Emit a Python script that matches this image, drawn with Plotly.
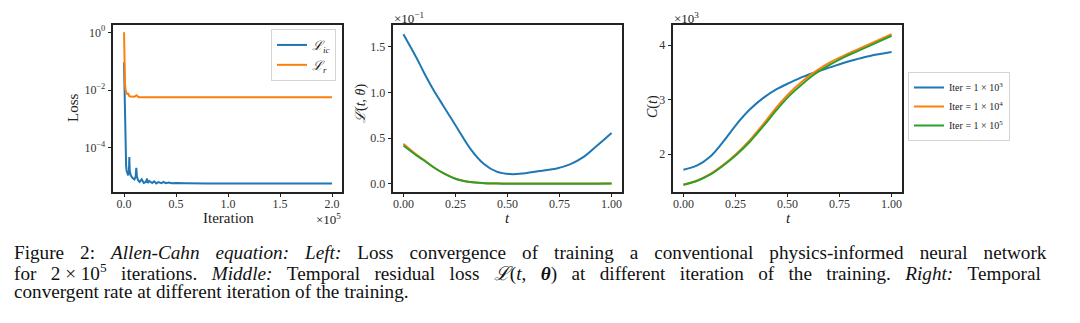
import plotly.graph_objects as go

W, H = 1080, 323

# ---------------- data ----------------
# Left: loss vs iteration (iteration in units of 1e5)
iter_ic = [0, 0.004, 0.008, 0.012, 0.016, 0.02, 0.025, 0.03, 0.04, 0.047, 0.051, 0.055,
           0.065, 0.08, 0.1, 0.112, 0.118, 0.124, 0.135, 0.15, 0.17, 0.19, 0.21, 0.222,
           0.23, 0.245, 0.27, 0.29, 0.31, 0.33, 0.36, 0.38, 0.4, 0.43, 0.46, 0.5, 0.55,
           0.6, 0.8, 1.0, 1.5, 2.0]
loss_ic = [0.09, 0.01, 1.2e-3, 2e-4, 5e-5, 2.5e-5, 1.6e-5, 1.3e-5, 1.1e-5, 1.4e-5, 4.8e-5, 1.6e-5,
           1.1e-5, 9e-6, 8e-6, 1.0e-5, 2.0e-5, 1.0e-5, 7.5e-6, 6.5e-6, 8e-6, 6e-6, 6.5e-6, 8.5e-6,
           6e-6, 7e-6, 6e-6, 6.8e-6, 5.8e-6, 6.4e-6, 5.9e-6, 6.5e-6, 5.9e-6, 6.2e-6, 5.9e-6, 6.0e-6, 5.8e-6,
           5.9e-6, 5.8e-6, 5.8e-6, 5.8e-6, 5.8e-6]
iter_r = [0, 0.003, 0.006, 0.01, 0.015, 0.02, 0.03, 0.04, 0.05, 0.06, 0.08, 0.1, 0.12,
          0.13, 0.14, 0.2, 0.5, 1.0, 1.5, 2.0]
loss_r = [1.0, 0.15, 0.035, 0.015, 0.01, 8.5e-3, 7e-3, 7.8e-3, 6.2e-3, 5.9e-3, 5.7e-3, 5.8e-3, 6.6e-3,
          5.9e-3, 5.6e-3, 5.6e-3, 5.6e-3, 5.6e-3, 5.6e-3, 5.6e-3]

# Middle: temporal residual loss (units of 1e-1)
t_mid = [0.0, 0.064, 0.096, 0.144, 0.192, 0.256, 0.32, 0.384, 0.448, 0.512, 0.576, 0.656,
         0.736, 0.8, 0.864, 0.928, 1.0]
res_1e3 = [1.637, 1.374, 1.23, 1.03, 0.853, 0.62, 0.39, 0.225, 0.135, 0.108, 0.115, 0.142,
           0.17, 0.214, 0.293, 0.415, 0.558]
res_1e4 = [0.44, 0.318, 0.266, 0.186, 0.12, 0.054, 0.023, 0.011, 0.007, 0.005, 0.005, 0.005,
           0.005, 0.005, 0.005, 0.005, 0.006]
res_1e5 = [0.42, 0.31, 0.262, 0.183, 0.118, 0.052, 0.021, 0.009, 0.005, 0.003, 0.003, 0.003,
           0.003, 0.003, 0.003, 0.003, 0.004]

# Right: temporal convergent rate (units of 1e3)
t_right = [0.0, 0.064, 0.128, 0.192, 0.256, 0.32, 0.384, 0.448, 0.512, 0.576, 0.64, 0.704,
           0.768, 0.832, 0.896, 1.0]
c_1e3 = [1.713, 1.786, 1.95, 2.23, 2.55, 2.82, 3.03, 3.19, 3.31, 3.42, 3.51, 3.59, 3.67,
         3.74, 3.80, 3.87]
c_1e4 = [1.437, 1.51, 1.63, 1.80, 2.01, 2.26, 2.55, 2.86, 3.13, 3.35, 3.53, 3.68, 3.80,
         3.91, 4.02, 4.20]
c_1e5 = [1.437, 1.505, 1.62, 1.79, 1.99, 2.23, 2.51, 2.81, 3.08, 3.30, 3.49, 3.64, 3.77,
         3.88, 3.99, 4.17]

legend_left = ["<i>ℒ</i><sub><i>ic</i></sub>", "<i>ℒ</i><sub><i>r</i></sub>"]
legend_right = ["Iter = 1 × 10<sup>3</sup>", "Iter = 1 × 10<sup>4</sup>", "Iter = 1 × 10<sup>5</sup>"]

x_ticks_left = [0, 0.5, 1.0, 1.5, 2.0]
x_ticks_left_text = ["0.0", "0.5", "1.0", "1.5", "2.0"]
y_ticks_left = [1, 1e-2, 1e-4]
y_ticks_left_text = ["10<sup>0</sup>", "10<sup>−2</sup>", "10<sup>−4</sup>"]
t_ticks = [0, 0.25, 0.5, 0.75, 1.0]
t_ticks_text = ["0.00", "0.25", "0.50", "0.75", "1.00"]
y_ticks_mid = [0, 0.5, 1.0, 1.5]
y_ticks_mid_text = ["0.0", "0.5", "1.0", "1.5"]
y_ticks_right = [2, 3, 4]
y_ticks_right_text = ["2", "3", "4"]

caption_line1 = ["Figure", "2:", "<i>Allen-Cahn</i>", "<i>equation:</i>", "<i>Left:</i>", "Loss",
                 "convergence", "of", "training", "a", "conventional", "physics-informed",
                 "neural", "network"]
caption_line2 = ["for", "2 × 10<sup>5</sup>", "iterations.", "<i>Middle:</i>", "Temporal", "residual",
                 "loss", "<i>ℒ</i>(<i>t</i>,", "<b><i>θ</i></b>)", "at", "different", "iteration",
                 "of", "the", "training.", "<i>Right:</i>", "Temporal"]
caption_line3 = "convergent rate at different iteration of the training."

BLUE, ORANGE, GREEN = "#1f77b4", "#ff7f0e", "#2ca02c"
SERIF = "Liberation Serif"
TXT = "#222222"


def px(x):
    return x / W


def py(y):
    return 1 - y / H


fig = go.Figure()

# left
fig.add_trace(go.Scatter(x=iter_ic, y=loss_ic, mode="lines", line=dict(color=BLUE, width=2),
                         name=legend_left[0], xaxis="x", yaxis="y", legend="legend"))
fig.add_trace(go.Scatter(x=iter_r, y=loss_r, mode="lines", line=dict(color=ORANGE, width=2),
                         name=legend_left[1], xaxis="x", yaxis="y", legend="legend"))
# middle
for ys, c in [(res_1e3, BLUE), (res_1e4, ORANGE), (res_1e5, GREEN)]:
    fig.add_trace(go.Scatter(x=t_mid, y=ys, mode="lines",
                             line=dict(color=c, width=2, shape="spline", smoothing=1.0),
                             showlegend=False, xaxis="x2", yaxis="y2"))
# right
for ys, c, nm in [(c_1e3, BLUE, legend_right[0]), (c_1e4, ORANGE, legend_right[1]),
                  (c_1e5, GREEN, legend_right[2])]:
    fig.add_trace(go.Scatter(x=t_right, y=ys, mode="lines",
                             line=dict(color=c, width=2, shape="spline", smoothing=1.0),
                             name=nm, xaxis="x3", yaxis="y3", legend="legend2"))

ydom = [py(192), py(25)]
axis_common = dict(showline=True, linecolor=TXT, linewidth=1.6, mirror=True, ticks="outside",
                   ticklen=3.5, tickwidth=1, tickcolor=TXT, showgrid=False, zeroline=False,
                   tickfont=dict(family=SERIF, size=12, color="#333333"))
xcommon = dict(ticklabelstandoff=-4, **axis_common)

fig.update_layout(
    width=W, height=H, margin=dict(l=0, r=0, t=0, b=0),
    paper_bgcolor="white", plot_bgcolor="white",
    xaxis=dict(domain=[px(113), px(342)], range=[-0.106, 2.096], tickvals=x_ticks_left,
               ticktext=x_ticks_left_text, anchor="y", **xcommon),
    yaxis=dict(domain=ydom, type="log", range=[-5.535, 0.253], tickvals=y_ticks_left,
               ticktext=y_ticks_left_text, anchor="x", **axis_common),
    xaxis2=dict(domain=[px(393), px(622)], range=[-0.05, 1.05], tickvals=t_ticks,
                ticktext=t_ticks_text, anchor="y2", **xcommon),
    yaxis2=dict(domain=ydom, range=[-0.0875, 1.737], tickvals=y_ticks_mid,
                ticktext=y_ticks_mid_text, anchor="x2", **axis_common),
    xaxis3=dict(domain=[px(673), px(902)], range=[-0.05, 1.05], tickvals=t_ticks,
                ticktext=t_ticks_text, anchor="y3", **xcommon),
    yaxis3=dict(domain=ydom, range=[1.303, 4.367], tickvals=y_ticks_right,
                ticktext=y_ticks_right_text, anchor="x3", **axis_common),
    legend=dict(x=px(271), y=py(29), xanchor="left", yanchor="top", bgcolor="white",
                bordercolor="#d5d5d5", borderwidth=1, font=dict(family=SERIF, size=13, color=TXT),
                tracegroupgap=0),
    legend2=dict(x=px(908), y=py(72), xanchor="left", yanchor="top", bgcolor="white",
                 bordercolor="#d5d5d5", borderwidth=1, font=dict(family=SERIF, size=10, color=TXT),
                 tracegroupgap=0),
)

ann = []


def A(text, x, y, size, xanchor="center", yanchor="middle", angle=0, family=SERIF, color=TXT):
    ann.append(dict(text=text, x=px(x), y=py(y), xref="paper", yref="paper", showarrow=False,
                    xanchor=xanchor, yanchor=yanchor, textangle=angle,
                    font=dict(family=family, size=size, color=color)))


A("Loss", 73, 108, 15, angle=-90)
A("Iteration", 228, 218, 15)
A("×10<sup>5</sup>", 343, 218.5, 13, xanchor="right")
A("<i>ℒ</i>(<i>t</i>, <i>θ</i>)", 361, 104, 14, angle=-90)
A("<i>t</i>", 507, 218, 15)
A("×10<sup>−1</sup>", 392, 18, 13, xanchor="left")
A("<i>C</i>(<i>t</i>)", 653, 107, 14, angle=-90)
A("<i>t</i>", 788, 218, 15)
A("×10<sup>3</sup>", 672, 18, 13, xanchor="left")

CAP = 19.2
EN = "\u2002"
HAIR = "\u200a"
line1 = (" " + EN + HAIR).join(caption_line1)
line2 = (" " + EN).join(caption_line2)
A(line1, 12, 252.5, CAP, xanchor="left", color="#111111")
A(line2, 12, 272, CAP, xanchor="left", color="#111111")
A(caption_line3, 12, 291.5, CAP, xanchor="left", color="#111111")

fig.update_layout(annotations=ann)
fig.write_html("out.html")
